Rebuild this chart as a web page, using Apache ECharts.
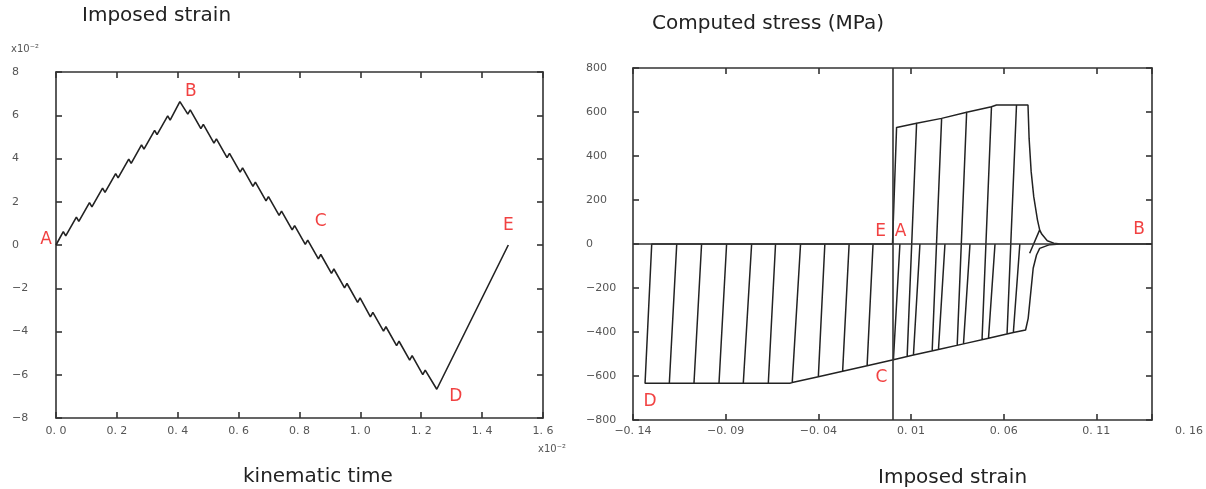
<!DOCTYPE html>
<html>
<head>
<meta charset="utf-8">
<script src="https://cdn.jsdelivr.net/npm/echarts@6/dist/echarts.min.js"></script>
<style>
html,body{margin:0;padding:0;background:#fff;}
#chart{width:1206px;height:489px;}
</style>
</head>
<body>
<div id="chart"></div>
<script>
// ---------- Left panel: imposed strain (x10^-2) vs kinematic time (x10^-2) ----------
const leftTime = [0,
  0.024,0.032, 0.067,0.075, 0.110,0.118, 0.153,0.161, 0.196,0.204, 0.239,0.247, 0.281,0.289, 0.324,0.332, 0.367,0.375,
  0.407,
  0.433,0.441, 0.476,0.484, 0.519,0.527, 0.562,0.570, 0.605,0.613, 0.647,0.655, 0.690,0.698, 0.733,0.741, 0.776,0.784,
  0.819,0.827, 0.862,0.870, 0.905,0.913, 0.948,0.956, 0.991,0.999, 1.033,1.041, 1.076,1.084, 1.119,1.127, 1.162,1.170,
  1.205,1.213,
  1.251, 1.486];
const leftStrain = [0,
  0.62,0.42, 1.29,1.09, 1.96,1.76, 2.63,2.43, 3.30,3.10, 3.97,3.77, 4.63,4.43, 5.30,5.10, 5.97,5.77,
  6.63,
  6.05,6.25, 5.38,5.58, 4.71,4.91, 4.04,4.24, 3.37,3.57, 2.71,2.91, 2.04,2.24, 1.37,1.57, 0.70,0.90,
  0.03,0.23, -0.64,-0.44, -1.31,-1.11, -1.98,-1.78, -2.65,-2.45, -3.32,-3.12, -3.98,-3.78, -4.65,-4.45, -5.32,-5.12,
  -5.99,-5.79,
  -6.67, 0];
const leftLabelNames = ['A','B','C','D','E'];
const leftLabelTime = [0, 0.407, 0.82, 1.251, 1.486];
const leftLabelStrain = [0, 6.63, 0, -6.67, 0];
const leftXTicks = {min: 0, max: 1.6, step: 0.2};
const leftYTicks = {min: -8, max: 8, step: 2};

// ---------- Right panel: computed stress (MPa) vs imposed strain ----------
const rightStrain = [
  // loading A -> B with unloading dips
  0, 0.0022, 0.0130, 0.0079, 0.0130, 0.0265, 0.0214, 0.0265, 0.0400, 0.0349, 0.0400,
  0.0534, 0.0483, 0.0534, 0.0561, 0.0669, 0.0618, 0.0669, 0.0731,
  0.0737, 0.0748, 0.0762, 0.0782, 0.0794, 0.0740, 0.0794, 0.0805, 0.0835, 0.0870, 0.0905, 0.1400,
  // B -> C -> D with reloading bumps
  0.0905, 0.0848, 0.0794, 0.0777, 0.0759, 0.0750, 0.0741, 0.0732, 0.0718,
  0.0652, 0.0687, 0.0652,
  0.0518, 0.0553, 0.0518,
  0.0383, 0.0418, 0.0383,
  0.0248, 0.0283, 0.0248,
  0.0113, 0.0148, 0.0113,
  0.0005, 0.0040, 0.0005,
  -0.0137, -0.0105, -0.0137,
  -0.0269, -0.0234, -0.0269,
  -0.0400, -0.0365, -0.0400,
  -0.0541, -0.0496, -0.0541,
  -0.0554,
  -0.0670, -0.0631, -0.0670,
  -0.0805, -0.0760, -0.0805,
  -0.0936, -0.0895, -0.0936,
  -0.1071, -0.1030, -0.1071,
  -0.1204, -0.1164, -0.1204,
  // D -> E
  -0.1335, -0.1299, 0];
const rightStress = [
  0, 530, 549, -512, 549, 571, -486, 571, 599, -460, 599,
  624, -435, 624, 632, 632, -409, 632, 632,
  480, 330, 215, 110, 64, -42, 64, 45, 15, 4, 0, 0,
  0, -3, -20, -50, -110, -186, -262, -338, -391,
  -402, 0, -402,
  -428, 0, -428,
  -454, 0, -454,
  -480, 0, -480,
  -505, 0, -505,
  -526, 0, -526,
  -553, 0, -553,
  -578, 0, -578,
  -603, 0, -603,
  -630, 0, -630,
  -633,
  -633, 0, -633,
  -633, 0, -633,
  -633, 0, -633,
  -633, 0, -633,
  -633, 0, -633,
  -633, 0, 0];
const rightLabelNames = ['E','A','B','C','D'];
const rightLabelStrain = [0, 0, 0.14, 0, -0.1335];
const rightLabelStress = [0, 0, 0, -527, -633];
const rightXTicks = {min: -0.14, max: 0.14, labelMax: 0.16, step: 0.05};
const rightYTicks = {min: -800, max: 800, step: 200};

// ---------- styling helpers ----------
const FONT = 'DejaVu Sans';
const AX = '#333';
const minus = s => s.replace('-', '\u2212');
const fmtLeftX = v => minus((Math.round(v*10)/10).toFixed(1)).replace('.', '. ');
const fmtRightX = v => minus((Math.round(v*100)/100).toFixed(2)).replace('.', '. ');
const fmtY = v => minus(String(Math.round(v)));

function tickAxis(gridIndex, pos, t, opts) {
  return Object.assign({
    type: 'value', gridIndex, position: pos,
    min: t.min, max: t.max, interval: t.step,
    axisLine: {show: true, onZero: false, lineStyle: {color: AX, width: 1.6}},
    axisTick: {show: true, inside: true, length: 6, lineStyle: {color: AX, width: 1.6}},
    axisLabel: {show: false},
    splitLine: {show: false}
  }, opts || {});
}
const labelStyle = {color: '#555', fontSize: 11, fontFamily: FONT};
const redLabel = (ox, oy) => ({show: true, formatter: '{b}', color: '#ee1111', fontSize: 17, fontFamily: FONT, position: 'inside', offset: [ox, oy]});
const titleStyle = size => ({fontFamily: FONT, fontSize: size, fontWeight: 'normal', color: '#222'});

const leftOffsets = [[-10,-5],[11,-10],[15,-23],[19,7],[0,-19]];
const rightOffsets = [[-12,-12],[8,-12],[-13,-14],[-11,18],[5,18]];

const option = {
  animation: false,
  backgroundColor: '#fff',
  title: [
    {text: 'Imposed strain', left: 82, top: 6, padding: 0, textStyle: titleStyle(20)},
    {text: 'kinematic time', left: 243, top: 467, padding: 0, textStyle: titleStyle(20)},
    {text: 'Computed stress (MPa)', left: 652, top: 14, padding: 0, textStyle: titleStyle(20)},
    {text: 'Imposed strain', left: 878, top: 468, padding: 0, textStyle: titleStyle(20)},
    {text: 'x10\u207B\u00B2', left: 11, top: 44, padding: 0, textStyle: {fontFamily: FONT, fontSize: 10, fontWeight: 'normal', color: '#555'}},
    {text: 'x10\u207B\u00B2', left: 538, top: 444, padding: 0, textStyle: {fontFamily: FONT, fontSize: 10, fontWeight: 'normal', color: '#555'}}
  ],
  grid: [
    {left: 56, top: 72, width: 487, height: 346},
    {left: 633, top: 68, width: 519, height: 352},
    {left: 633, top: 68, width: 556, height: 352}
  ],
  xAxis: [
    tickAxis(0, 'bottom', leftXTicks, {axisLabel: Object.assign({show: true, margin: 8, formatter: fmtLeftX}, labelStyle)}),
    tickAxis(0, 'top', leftXTicks),
    tickAxis(1, 'bottom', rightXTicks),
    tickAxis(1, 'top', rightXTicks),
    {type: 'value', gridIndex: 2, position: 'bottom', min: rightXTicks.min, max: rightXTicks.labelMax, interval: rightXTicks.step,
     axisLine: {show: false}, axisTick: {show: false}, splitLine: {show: false},
     axisLabel: Object.assign({show: true, margin: 6, formatter: fmtRightX}, labelStyle)}
  ],
  yAxis: [
    tickAxis(0, 'left', leftYTicks, {axisLabel: Object.assign({show: true, margin: 44, align: 'left', formatter: fmtY}, labelStyle)}),
    tickAxis(0, 'right', leftYTicks),
    tickAxis(1, 'left', rightYTicks, {axisLabel: Object.assign({show: true, margin: 47, align: 'left', formatter: fmtY}, labelStyle)}),
    tickAxis(1, 'right', rightYTicks),
    {type: 'value', gridIndex: 2, show: false, min: rightYTicks.min, max: rightYTicks.max}
  ],
  series: [
    {
      type: 'line', xAxisIndex: 0, yAxisIndex: 0, symbol: 'none', silent: true,
      lineStyle: {color: '#222', width: 1.6},
      data: leftTime.map((t, i) => [t, leftStrain[i]])
    },
    {
      type: 'scatter', xAxisIndex: 0, yAxisIndex: 0, symbolSize: 0, silent: true,
      data: leftLabelNames.map((n, i) => ({name: n, value: [leftLabelTime[i], leftLabelStrain[i]], label: redLabel(leftOffsets[i][0], leftOffsets[i][1])}))
    },
    {
      type: 'line', xAxisIndex: 2, yAxisIndex: 2, symbol: 'none', silent: true,
      lineStyle: {color: '#222', width: 1.5},
      data: rightStrain.map((s, i) => [s, rightStress[i]]),
      markLine: {
        silent: true, symbol: 'none', label: {show: false},
        lineStyle: {color: AX, width: 1.6, type: 'solid'},
        data: [{xAxis: 0}, {yAxis: 0}]
      }
    },
    {
      type: 'scatter', xAxisIndex: 2, yAxisIndex: 2, symbolSize: 0, silent: true,
      data: rightLabelNames.map((n, i) => ({name: n, value: [rightLabelStrain[i], rightLabelStress[i]], label: redLabel(rightOffsets[i][0], rightOffsets[i][1])}))
    }
  ]
};
echarts.init(document.getElementById('chart'), null, {renderer: 'canvas'}).setOption(option);
</script>
</body>
</html>
